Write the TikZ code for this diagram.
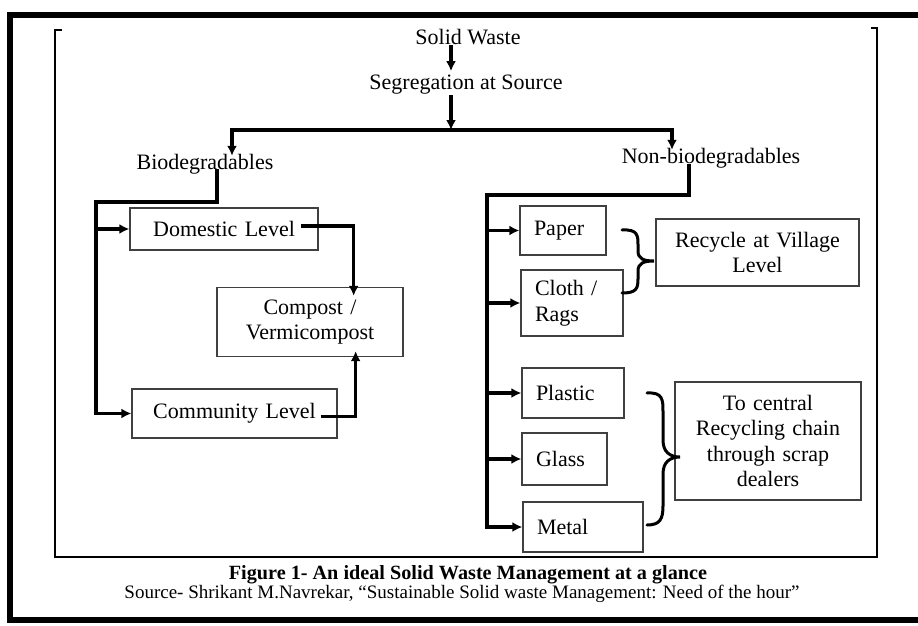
\documentclass[tikz,border=0pt]{standalone}
\usepackage{fontspec}
\setmainfont{Liberation Serif}
\usetikzlibrary{arrows.meta,calc}
\begin{document}
\begin{tikzpicture}[x=1pt,y=-1pt,
  txt/.style={inner sep=0pt,font=\fontsize{22}{25.5}\selectfont},
  box/.style={draw=black!75,line width=1.3pt,inner ysep=0pt,inner xsep=14pt,font=\fontsize{22}{25.5}\selectfont},
  cbox/.style={box,align=center},
  lbox/.style={box,align=left},
  conn/.style={line width=3.5pt,line join=miter},
  arr/.style={conn,-{Latex[length=10pt,width=10pt]}},
  bracel/.style={line width=3pt,line cap=round},
  frame/.style={line width=1.4pt}]
\useasboundingbox (0,0) rectangle (918,626);
% frames
\draw[line width=6pt] (918,15) -- (10,15) -- (10,620) -- (918,620);
\draw[frame] (62,30) -- (55,30) -- (55,557) -- (877,557) -- (877,28) -- (871,28);
% labels
\node[txt] (sw) at (468,37) {Solid Waste};
\node[txt] (seg) at (466,85) {Segregation at Source};
\node[txt] (bio) at (205,164) {Biodegradables};
\node[txt] (nbio) at (711,158) {Non-biodegradables};
% boxes
\node[cbox,text width=160pt,minimum height=42pt] (dom) at (224,229) {Domestic Level};
\node[cbox,text width=158pt,minimum height=69pt] (comp) at (310,322) {Compost /\\Vermicompost};
\node[cbox,text width=177pt,minimum height=49pt] (comm) at (234.5,413.5) {Community Level};
\node[lbox,text width=58pt,minimum height=49pt] (paper) at (563,230.5) {Paper};
\node[lbox,text width=74pt,minimum height=66pt] (cloth) at (572,303) {Cloth /\\Rags};
\node[cbox,text width=175pt,minimum height=67pt] (rec) at (757.5,252.5) {Recycle at Village\\Level};
\node[lbox,text width=74pt,minimum height=50pt] (plastic) at (573,393) {Plastic};
\node[lbox,text width=57pt,minimum height=52pt] (glass) at (564.5,459) {Glass};
\node[lbox,text width=92pt,minimum height=50pt] (metal) at (583,527) {Metal};
\node[cbox,text width=158pt,minimum height=118pt] (cen) at (768,441) {To central\\Recycling chain\\through scrap\\dealers};
% junction coordinates
\coordinate (barM) at (451,130);
\coordinate (barL) at (232,130);
\coordinate (barR) at (672,130);
\coordinate (bj) at (217,202);
\coordinate (bL) at (96,202);
\coordinate (nj) at (689,195);
\coordinate (nL) at (487,195);
% top connectors
\draw[arr] (sw.south -| barM) -- ([yshift=4pt]seg.north -| barM);
\draw[arr] (seg.south -| barM) -- (barM);
\draw[arr] (barM) -- (barL) -- ([yshift=-2pt]barL |- bio.north);
\draw[arr] (barM) -- (barR) -- ([yshift=-2pt]barR |- nbio.north);
% biodegradable branch
\draw[arr] ([yshift=5pt]bio.south -| bj) -- (bj) -- (bL) -- (bL |- comm.west) -- (comm.west);
\draw[arr] (bL |- dom.west) -- (dom.west);
\draw[arr] ($(dom.east)+(-18pt,3pt)$) -| ($(comp.north east)+(-50pt,-9pt)$);
\draw[arr] ($(comm.east)+(-17pt,-3pt)$) -| ($(comp.south east)+(-48pt,6pt)$);
% non-biodegradable branch
\draw[arr] ([yshift=4pt]nbio.south -| nj) -- (nj) -- (nL) -- (nL |- metal.west) -- (metal.west);
\draw[arr] (nL |- paper.west) -- (paper.west);
\draw[arr] (nL |- cloth.west) -- (cloth.west);
\draw[arr] (nL |- plastic.west) -- (plastic.west);
\draw[arr] (nL |- glass.west) -- (glass.west);
% braces
\coordinate (pb1) at (622,230);
\coordinate (pbt) at (654,261);
\coordinate (pb2) at (622,293);
\coordinate (mb1) at (647,393);
\coordinate (mbt) at (680,457);
\coordinate (mb2) at (647,525);
\draw[bracel] (pb1) .. controls (638,229) and (638,236) .. (638,245) -- (638,251)
  .. controls (638,259) and (644,261) .. (pbt)
  .. controls (644,261) and (638,263) .. (638,271) -- (638,279)
  .. controls (638,289) and (636,293) .. (pb2);
\draw[bracel] (mb1) .. controls (663,392) and (663,400) .. (663,412) -- (663,440)
  .. controls (663,452) and (670,457) .. (mbt)
  .. controls (670,457) and (663,462) .. (663,474) -- (663,506)
  .. controls (663,519) and (660,525) .. (mb2);
% captions
\node[inner sep=0pt,font=\bfseries\fontsize{20.2}{22}\selectfont] (cap) at (468,575) {Figure 1- An ideal Solid Waste Management at a glance};
\node[inner sep=0pt,font=\fontsize{19}{22}\selectfont] (src) at (462,594) {Source- Shrikant M.Navrekar, “Sustainable Solid waste Management: Need of the hour”};
\end{tikzpicture}
\end{document}
